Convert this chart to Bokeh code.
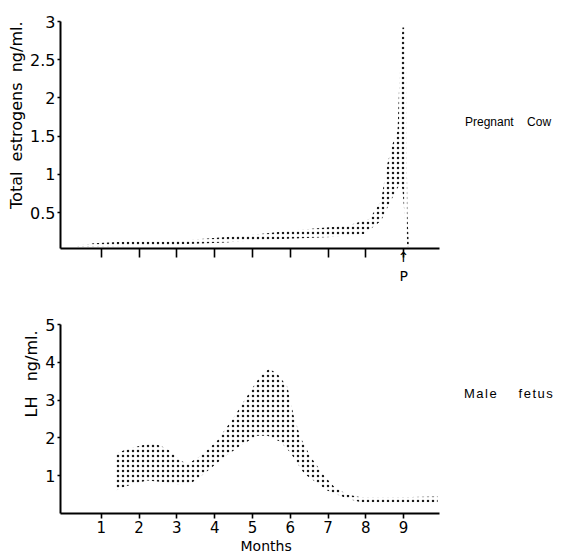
from bokeh.plotting import figure
from bokeh.layouts import column, row
from bokeh.models import Range1d, FixedTicker, Title, Div
from bokeh.embed import file_html
from bokeh.resources import INLINE

# ---- data ----
months = [1, 2, 3, 4, 5, 6, 7, 8, 9]
est_ticks = [0.5, 1, 1.5, 2, 2.5, 3]
lh_ticks = [1, 2, 3, 4, 5]

# Total estrogens (pregnant cow) band, ng/ml
est_upper_x = [0.37, 0.8, 1.7, 2.8, 3.3, 4.3, 5.2, 6.1, 7.1, 7.6, 8.1, 8.4, 8.57, 8.71, 8.84, 8.88, 8.93, 8.97, 9.05, 9.07, 9.08, 9.10, 9.14]
est_upper_y = [0.07, 0.10, 0.12, 0.12, 0.14, 0.18, 0.22, 0.27, 0.31, 0.34, 0.42, 0.65, 1.14, 1.40, 1.57, 2.14, 2.66, 2.92, 2.92, 2.40, 1.50, 0.50, 0.05]
est_lower_x = [0.37, 0.8, 1.7, 2.8, 3.3, 4.3, 5.2, 6.1, 7.1, 7.95, 8.4, 8.66, 8.84, 8.93, 8.97, 9.02, 9.06, 9.10]
est_lower_y = [0.05, 0.05, 0.06, 0.07, 0.09, 0.11, 0.14, 0.16, 0.18, 0.22, 0.39, 0.65, 0.82, 0.88, 0.80, 0.50, 0.25, 0.05]

# LH (male fetus) band, ng/ml
lh_upper_x = [1.38, 1.6, 2.04, 2.39, 2.75, 3.10, 3.28, 3.63, 4.07, 4.51, 4.95, 5.22, 5.44, 5.66, 5.93, 6.1, 6.28, 6.54, 6.9, 7.15, 7.5, 7.87, 8.5, 9.9]
lh_upper_y = [1.58, 1.67, 1.80, 1.86, 1.71, 1.40, 1.31, 1.53, 1.93, 2.55, 3.25, 3.65, 3.83, 3.70, 3.34, 2.55, 2.00, 1.50, 1.00, 0.72, 0.50, 0.43, 0.42, 0.45]
lh_lower_x = [1.38, 1.6, 1.86, 2.22, 2.66, 3.01, 3.36, 3.72, 4.25, 4.69, 5.13, 5.40, 5.75, 6.01, 6.37, 6.98, 7.52, 7.87, 9.9]
lh_lower_y = [0.61, 0.70, 0.79, 0.87, 0.83, 0.77, 0.79, 1.05, 1.49, 1.80, 2.06, 2.06, 1.89, 1.60, 1.05, 0.61, 0.39, 0.30, 0.30]

FONT = "DejaVu Sans"
X_RANGE = (-0.08, 9.95)


def style(p):
    p.grid.visible = False
    p.outline_line_color = None
    p.background_fill_color = "white"
    p.border_fill_color = "white"
    for ax in (p.xaxis[0], p.yaxis[0]):
        ax.axis_line_width = 2
        ax.axis_line_color = "black"
        ax.major_tick_line_width = 1.6
        ax.major_tick_line_color = "black"
        ax.minor_tick_line_color = None
        ax.major_tick_in = 0
        ax.major_label_text_font = FONT
        ax.major_label_text_font_size = "16px"
        ax.major_label_text_color = "black"


def band(p, ux, uy, lx, ly):
    xs = list(ux) + list(lx)[::-1]
    ys = list(uy) + list(ly)[::-1]
    p.patch(xs, ys, fill_color="white", fill_alpha=0.0, line_color=None,
            hatch_pattern="dot", hatch_scale=5, hatch_weight=1.6, hatch_color="#1a1a1a")


def side_text(txt, top_margin, left_margin, size, spacing):
    return Div(text=txt, width=125, height=20, margin=(top_margin, 0, 0, left_margin),
               styles={"font-family": "Liberation Sans", "font-size": size, "color": "black",
                       "white-space": "nowrap", "line-height": "14px", "letter-spacing": spacing})


# ---- top panel ----
top = figure(width=443, height=288, output_backend="svg", toolbar_location=None,
             x_range=Range1d(*X_RANGE), y_range=Range1d(0.03, 3.0),
             min_border_left=60, min_border_right=4, min_border_top=21, min_border_bottom=40)
style(top)
top.xaxis.ticker = FixedTicker(ticks=months)
top.xaxis.major_label_overrides = {m: ("\u2191\nP" if m == 9 else "") for m in months}
top.xaxis.major_label_text_font_size = "14px"
top.xaxis.major_tick_out = 9
top.xaxis.major_label_standoff = -9
top.yaxis.ticker = FixedTicker(ticks=est_ticks)
top.yaxis.major_tick_out = 3
top.yaxis.major_label_standoff = 2
top.add_layout(Title(text="Total\u00a0 estrogens\u00a0 ng/ml.", align="right", offset=0, standoff=4,
                     text_font=FONT, text_font_size="16px", text_font_style="normal",
                     text_color="black"), "left")
band(top, est_upper_x, est_upper_y, est_lower_x, est_lower_y)

# ---- bottom panel ----
bot = figure(width=443, height=270, output_backend="svg", toolbar_location=None,
             x_range=Range1d(*X_RANGE), y_range=Range1d(0, 5),
             min_border_left=60, min_border_right=4, min_border_top=36, min_border_bottom=45)
style(bot)
bot.xaxis.ticker = FixedTicker(ticks=months)
bot.xaxis.major_label_text_font_size = "15px"
bot.xaxis.major_tick_out = 5
bot.xaxis.major_label_standoff = 2
bot.yaxis.ticker = FixedTicker(ticks=lh_ticks)
bot.yaxis.major_tick_out = 3
bot.yaxis.major_label_standoff = 2
bot.add_layout(Title(text="LH\u00a0\u00a0 ng/ml.", align="right", offset=6, standoff=4,
                     text_font=FONT, text_font_size="16px", text_font_style="normal",
                     text_color="black"), "left")
bot.add_layout(Title(text="Months", align="left", offset=180, standoff=0,
                     text_font=FONT, text_font_size="14px", text_font_style="normal",
                     text_color="black"), "below")
band(bot, lh_upper_x, lh_upper_y, lh_lower_x, lh_lower_y)

top_row = row(top, side_text("Pregnant&nbsp;&nbsp;&nbsp; Cow", 115, 22, "12px", "0px"))
bot_row = row(bot, side_text("Male&nbsp;&nbsp;&nbsp; fetus", 99, 21, "13px", "1.5px"))
layout = column(top_row, bot_row)
open("out.html", "w").write(file_html(layout, INLINE))
